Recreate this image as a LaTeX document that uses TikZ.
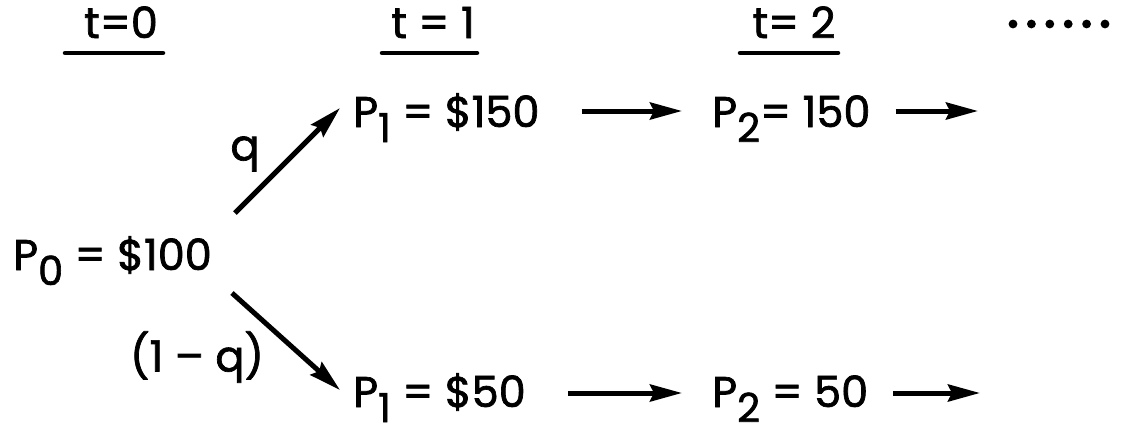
\documentclass[tikz,border=0pt]{standalone}
\usepackage{fontspec}
\setmainfont{Poppins}[FakeBold=1.6]
\usetikzlibrary{arrows.meta,calc}
\newcommand\sbx[1]{\raisebox{-15pt}{\fontsize{40}{40}\selectfont #1}}
\begin{document}
\begin{tikzpicture}[x=1pt,y=-1pt,
  every node/.style={inner sep=0pt, font=\fontsize{43}{50}\selectfont},
  arr/.style={line width=5pt, -{Stealth[length=32pt,width=17pt,inset=4pt]}},
  uline/.style={line width=4.5pt, line cap=round}]
\useasboundingbox (0,0) rectangle (1121,434);
% headers
\node[anchor=base] (t0) at (121,38) {t=0};
\node[anchor=base] (t1) at (433,38) {t = 1};
\node[anchor=base] (t2) at (794,38) {t= 2};
\draw[uline] ($(t0.base)+(-56,15)$) -- ($(t0.base)+(42,15)$);
\draw[uline] ($(t1.base)+(-51,15)$) -- ($(t1.base)+(44,15)$);
\draw[uline] ($(t2.base)+(-54,15)$) -- ($(t2.base)+(44,15)$);
\foreach \i in {0,...,5} \fill (1013+18.4*\i,24) circle (4.4);
% nodes
\node[anchor=base west] (p0) at (13,270) {P\sbx{0} = \$100};
\node[anchor=base west] (p1t) at (353,127) {P\sbx{1} = \$150};
\node[anchor=base west] (p2t) at (712,127) {P\sbx{2}= 150};
\node[anchor=base west] (p1b) at (353,407) {P\sbx{1} = \$50};
\node[anchor=base west] (p2b) at (712,407) {P\sbx{2} = 50};
\coordinate (e1) at (978,111);
\coordinate (e2) at (980,393);
% labels
\node (q) at (245,154) {q};
\node (nq) at (197,357) {(1 – q)};
% arrows
\draw[arr] ([xshift=23pt,yshift=57pt]p0.base east) -- ([xshift=-13pt,yshift=19pt]p1t.base west);
\draw[arr] ([xshift=20pt,yshift=-23pt]p0.base east) -- ([xshift=-13pt,yshift=17pt]p1b.base west);
\draw[arr] ([xshift=42pt,yshift=16pt]p1t.base east) -- ([xshift=-30pt,yshift=16pt]p2t.base west);
\draw[arr] ([xshift=25pt,yshift=16pt]p2t.base east) -- (e1);
\draw[arr] ([xshift=42pt,yshift=14pt]p1b.base east) -- ([xshift=-30pt,yshift=14pt]p2b.base west);
\draw[arr] ([xshift=25pt,yshift=14pt]p2b.base east) -- (e2);
\end{tikzpicture}
\end{document}
